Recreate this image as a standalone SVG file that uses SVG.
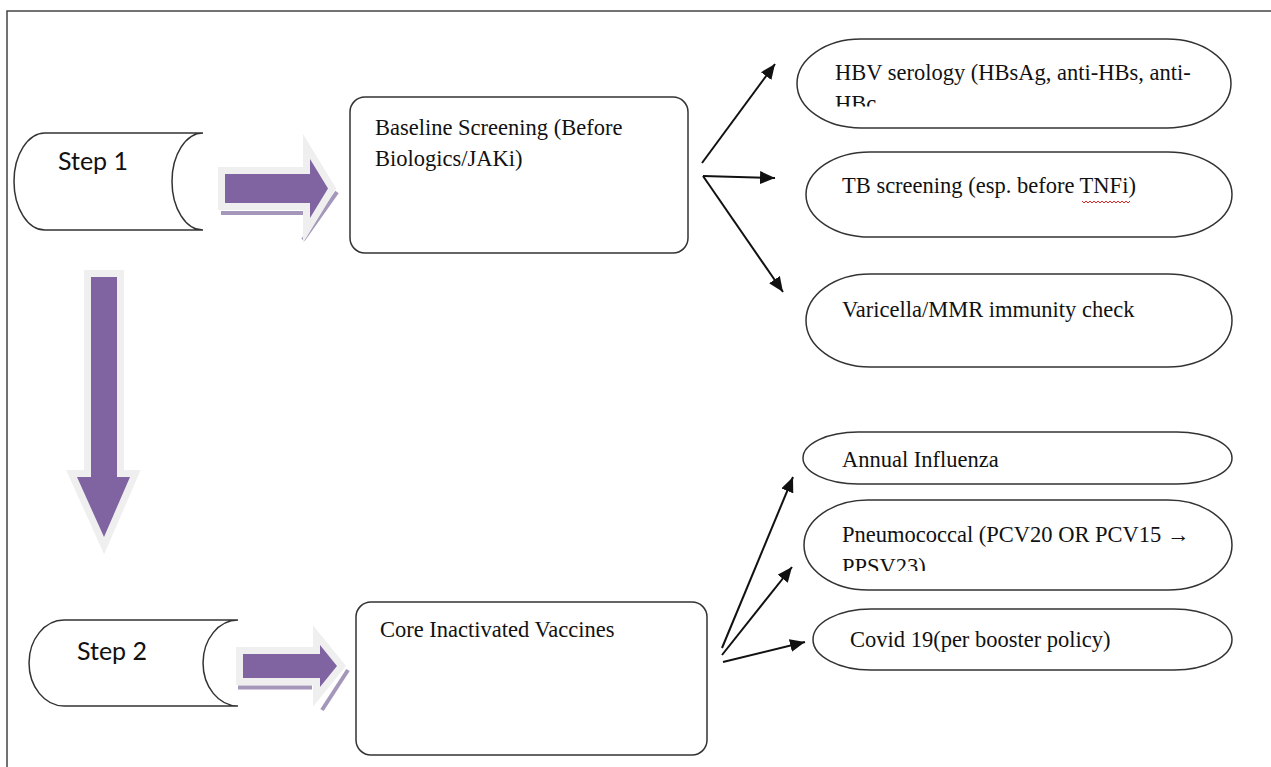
<svg xmlns="http://www.w3.org/2000/svg" width="1271" height="767" viewBox="0 0 1271 767">
<style>
.shape{fill:#fff;stroke:#333;stroke-width:1.5}
.serif{font-family:"Liberation Serif","Times New Roman",serif;font-size:22.5px;fill:#111}
.sans{font-family:Lato,"Open Sans",sans-serif;font-size:25px;fill:#111}
.glow{fill:#efefef;stroke:#efefef;stroke-width:14;stroke-linejoin:miter}
.body{fill:#8064a2}
.shadow{stroke:#a597ba;stroke-width:4;fill:none}
.conn{stroke:#111;stroke-width:2;fill:none;marker-end:url(#ah)}
</style>
<defs>
<marker id="ah" markerUnits="userSpaceOnUse" markerWidth="16" markerHeight="14" refX="15" refY="6.5" orient="auto">
<path d="M0,0 L15,6.5 L0,13 Z" fill="#111"/>
</marker>
<clipPath id="clipHBV"><rect x="790" y="30" width="450" height="76.5"/></clipPath>
<clipPath id="clipPn"><rect x="790" y="495" width="450" height="76"/></clipPath>
</defs>
<rect width="1271" height="767" fill="#fff"/>
<path d="M7,767 L7,11 L1271,11" fill="none" stroke="#444" stroke-width="1.5"/>

<g id="step1">
<path class="shape" d="M45,133 L203,133 A31,48.5 0 0 0 203,230 L45,230 A31,48.5 0 0 1 45,133 Z"/>
<text class="sans" x="58" y="170">Step 1</text>
</g>
<g id="step2">
<path class="shape" d="M64,620 L238,620 A35,43 0 0 0 238,706 L64,706 A35,43 0 0 1 64,620 Z"/>
<text class="sans" x="77" y="660">Step 2</text>
</g>

<g id="arrow-step1">
<line class="shadow" x1="221" y1="213" x2="303" y2="213"/>
<line class="shadow" x1="337" y1="192" x2="303" y2="240"/>
<polygon class="glow" points="225,174 310,174 310,159 328,188.5 310,218 310,203 225,203"/>
<polygon class="body" points="225,174 310,174 310,159 328,188.5 310,218 310,203 225,203"/>
</g>
<g id="arrow-step2">
<line class="shadow" x1="238" y1="687.5" x2="312" y2="687.5"/>
<line class="shadow" x1="348" y1="670" x2="322" y2="710"/>
<polygon class="glow" points="243,654 320,654 320,645 337,666 320,687 320,678 243,678"/>
<polygon class="body" points="243,654 320,654 320,645 337,666 320,687 320,678 243,678"/>
</g>
<g id="arrow-down">
<polygon class="glow" points="91,277 117,277 117,477 130,477 104,537 77,477 91,477"/>
<polygon class="body" points="91,277 117,277 117,477 130,477 104,537 77,477 91,477"/>
</g>

<g id="baseline">
<rect class="shape" x="350" y="97" width="338" height="156" rx="15"/>
<text class="serif" x="375" y="135">Baseline Screening (Before</text>
<text class="serif" x="375" y="166">Biologics/JAKi)</text>
</g>
<g id="core">
<rect class="shape" x="356" y="602" width="351" height="153" rx="15"/>
<text class="serif" x="380" y="637">Core Inactivated Vaccines</text>
</g>

<g id="hbv">
<rect class="shape" x="797" y="39" width="434" height="89" rx="64" ry="44.5"/>
<g clip-path="url(#clipHBV)">
<text class="serif" x="835" y="80">HBV serology (HBsAg, anti-HBs, anti-</text>
<text class="serif" x="835" y="111">HBc</text>
</g>
</g>
<g id="tb">
<rect class="shape" x="806" y="152" width="426" height="85" rx="64" ry="42.5"/>
<text class="serif" x="842" y="193">TB screening (esp. before TNFi)</text>
<path d="M1082,201 l2,2 l2,-2 l2,2 l2,-2 l2,2 l2,-2 l2,2 l2,-2 l2,2 l2,-2 l2,2 l2,-2 l2,2 l2,-2 l2,2 l2,-2 l2,2 l2,-2 l2,2 l2,-2 l2,2 l2,-2 l2,2 l2,-2" fill="none" stroke="#e02828" stroke-width="1"/>
</g>
<g id="varicella">
<rect class="shape" x="806" y="274" width="426" height="93" rx="64" ry="46.5"/>
<text class="serif" x="842" y="317">Varicella/MMR immunity check</text>
</g>
<g id="influenza">
<rect class="shape" x="803" y="432" width="429" height="52" rx="55" ry="26"/>
<text class="serif" x="842" y="467">Annual Influenza</text>
</g>
<g id="pneumo">
<rect class="shape" x="804" y="500" width="428" height="90" rx="64" ry="45"/>
<g clip-path="url(#clipPn)">
<text class="serif" x="842" y="542">Pneumococcal (PCV20 OR PCV15 →</text>
<text class="serif" x="842" y="574">PPSV23)</text>
</g>
</g>
<g id="covid">
<rect class="shape" x="813" y="609" width="419" height="61" rx="58" ry="30.5"/>
<text class="serif" x="850" y="647">Covid 19(per booster policy)</text>
</g>

<g id="connectors">
<line class="conn" x1="702" y1="163" x2="775" y2="64"/>
<line class="conn" x1="703" y1="176" x2="775" y2="178"/>
<line class="conn" x1="703" y1="176" x2="783" y2="292"/>
<line class="conn" x1="722" y1="648" x2="793" y2="477"/>
<line class="conn" x1="722" y1="655" x2="792" y2="567"/>
<line class="conn" x1="723" y1="662" x2="805" y2="642"/>
</g>
</svg>
